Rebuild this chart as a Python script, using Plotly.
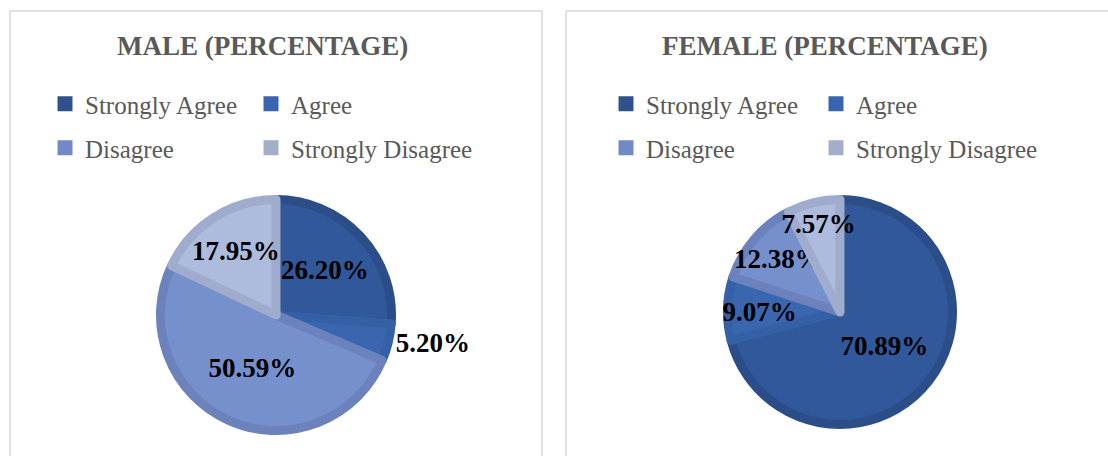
import plotly.graph_objects as go

W, H = 1108, 456

categories = ["Strongly Agree", "Agree", "Disagree", "Strongly Disagree"]
male_values = [26.20, 5.20, 50.59, 17.95]
female_values = [70.89, 9.07, 12.38, 7.57]
male_text_pos = ["inside", "outside", "inside", "inside"]
female_text_pos = ["inside", "inside", "inside", "inside"]

fill_colors = ["#31589A", "#3A66B0", "#7690CD", "#AFBBDD"]
edge_colors = ["#2C4E88", "#3460A6", "#6B82BD", "#A0ACCD"]
legend_colors = ["#2F528F", "#3864B0", "#7189C6", "#A3AECB"]

titles = ["MALE (PERCENTAGE)", "FEMALE (PERCENTAGE)"]

SERIF = "Liberation Serif, Times New Roman, serif"
GREY = "#595959"


def px_x(v):
    return v / W


def px_y(v):
    return 1 - v / H


fig = go.Figure()

EDGE = 9
pie_boxes = [(276, 315, 120), (840, 312, 117)]  # centre x, centre y, outer radius (px)

for vals, pos, (cx, cy, r) in zip([male_values, female_values],
                                  [male_text_pos, female_text_pos], pie_boxes):
    ri = r - EDGE / 2
    fig.add_trace(go.Pie(
        labels=categories,
        values=vals,
        sort=False,
        direction="clockwise",
        rotation=0,
        domain=dict(x=[px_x(cx - ri), px_x(cx + ri)], y=[px_y(cy + ri), px_y(cy - ri)]),
        marker=dict(colors=fill_colors, line=dict(color=edge_colors, width=EDGE)),
        texttemplate="%{value:.2f}%",
        textposition=pos,
        insidetextorientation="horizontal",
        textfont=dict(family=SERIF, size=27, color="black", weight="bold"),
        showlegend=False,
        hoverinfo="label+value",
    ))

# One legend per entry: (legend id, category index, text-start x px, row centre y px)
legend_slots = [
    ("legend", 0, 85, 104), ("legend2", 1, 291, 104),
    ("legend3", 2, 85, 148), ("legend4", 3, 291, 148),
    ("legend5", 0, 646, 104), ("legend6", 1, 856, 104),
    ("legend7", 2, 646, 148), ("legend8", 3, 856, 148),
]
legend_common = dict(
    orientation="h", xanchor="left", yanchor="middle",
    font=dict(family=SERIF, size=25, color=GREY),
    bgcolor="rgba(0,0,0,0)", borderwidth=0, itemclick=False,
    itemdoubleclick=False,
)
legend_layout = {}
for lg, i, tx, ty in legend_slots:
    fig.add_trace(go.Scatter(
        x=[None], y=[None], mode="markers", name=categories[i],
        marker=dict(symbol="square", size=15, color=legend_colors[i]),
        legend=lg, showlegend=True, hoverinfo="skip",
    ))
    legend_layout[lg] = dict(x=px_x(tx - 40), y=px_y(ty), **legend_common)
fig.update_layout(**legend_layout)

annotations = []
for t, cx in zip(titles, [262, 825]):
    annotations.append(dict(
        text=t, x=px_x(cx), y=px_y(46), xref="paper", yref="paper",
        xanchor="center", yanchor="middle", showarrow=False,
        font=dict(family=SERIF, size=27, color=GREY, weight="bold"),
    ))

shapes = [
    dict(type="rect", xref="paper", yref="paper",
         x0=px_x(10), x1=px_x(542), y0=-0.1, y1=px_y(11),
         line=dict(color="#D9D9D9", width=1.5), fillcolor="rgba(0,0,0,0)", layer="below"),
    dict(type="rect", xref="paper", yref="paper",
         x0=px_x(566), x1=1.1, y0=-0.1, y1=px_y(11),
         line=dict(color="#D9D9D9", width=1.5), fillcolor="rgba(0,0,0,0)", layer="below"),
]

fig.update_layout(
    width=W, height=H,
    margin=dict(l=0, r=0, t=0, b=0),
    paper_bgcolor="white", plot_bgcolor="white",
    xaxis=dict(visible=False), yaxis=dict(visible=False),
    annotations=annotations, shapes=shapes,
    uniformtext=dict(minsize=27, mode="show"),
)

fig.write_html("out.html", config={"displayModeBar": False},
               post_script="document.body.style.margin='0px';")
